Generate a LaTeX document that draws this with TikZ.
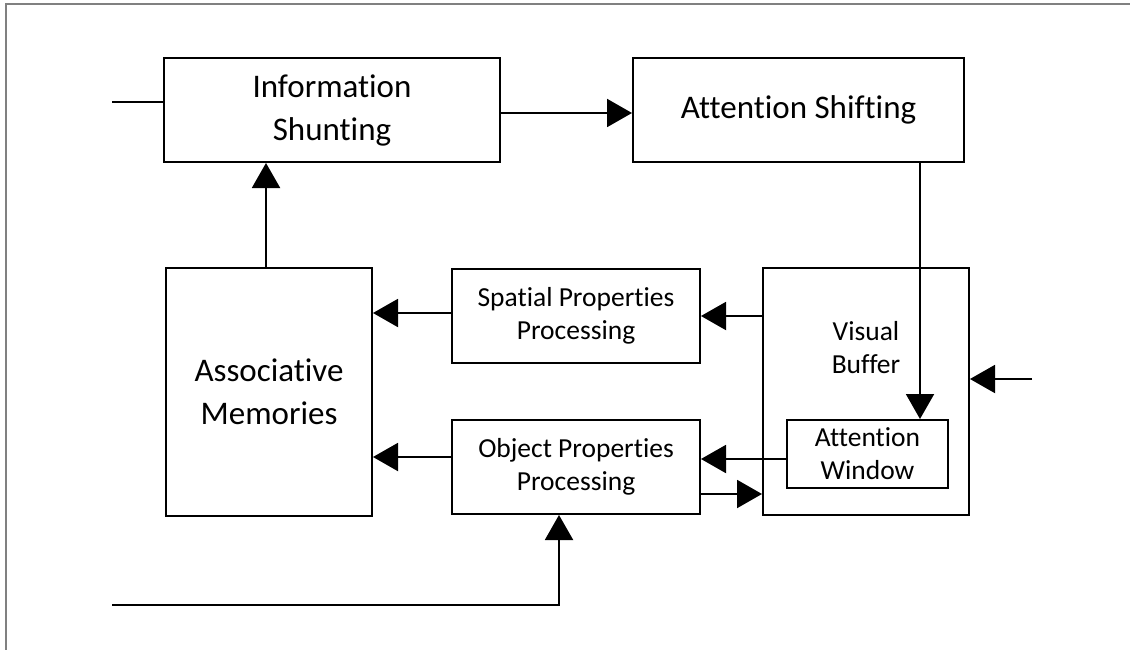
\documentclass[tikz,border=0pt]{standalone}
\usepackage{fontspec}
\setmainfont{Carlito}[RawFeature={-liga;-clig;-calt;-rlig;-dlig}]
\usetikzlibrary{arrows.meta}
\tikzset{
  box/.style={draw=black, line width=2pt, fill=white, inner sep=0pt, align=center},
  big/.style={font=\fontsize{33}{43}\selectfont},
  small/.style={font=\fontsize{27.5}{33}\selectfont},
  conn/.style={line width=2pt, black},
  arr/.style={conn, -{Triangle[length=25pt,width=28pt]}},
}
\begin{document}
\begin{tikzpicture}[x=1pt,y=-1pt]
  \useasboundingbox (0,0) rectangle (1130,650);
  % outer frame (only left and top edges are inside the page)
  \draw[line width=2pt, color=black!50] (6,650) -- (6,4) -- (1130,4);

  % boxes
  \node[box, big, minimum width=336pt, minimum height=104pt] (info) at (332,110) {Information\\Shunting};
  \node[box, big, minimum width=331pt, minimum height=104pt] (shift) at (798.5,110) {Attention Shifting};
  \node[box, big, minimum width=206pt, minimum height=248pt] (am) at (269,392) {Associative\\Memories};
  \node[box, small, minimum width=248pt, minimum height=94pt] (spatial) at (576,316) {Spatial Properties\\Processing};
  \node[box, small, minimum width=248pt, minimum height=94pt] (object) at (576,467) {Object Properties\\Processing};
  \node[box, minimum width=206pt, minimum height=247pt] (vb) at (866,391.5) {};
  \node[small, align=center] (vbtext) at (866,348) {Visual\\Buffer};
  \node[box, small, minimum width=161pt, minimum height=68pt] (win) at (867.5,454) {Attention\\Window};

  % free ends of the input lines
  \coordinate (inA) at (112,102);
  \coordinate (inB) at (1032,379);
  \coordinate (inC) at (112,605);

  % connectors
  \draw[conn] (inA) -- (inA -| info.west);
  \draw[arr] ([yshift=-3pt]info.east) -- ([yshift=-3pt]shift.west);
  \draw[arr] ([xshift=121.5pt]shift.south) coordinate (d) -- (d |- win.north);
  \draw[arr] ([xshift=-3pt]am.north) coordinate (u) -- (u |- info.south);
  \draw[arr] (vb.west |- spatial.east) -- (spatial.east);
  \draw[arr] ([yshift=3pt]spatial.west) coordinate (s) -- (s -| am.east);
  \draw[arr] ([yshift=10pt]object.west) coordinate (o) -- (o -| am.east);
  \draw[arr] ([yshift=-5pt]win.west) coordinate (w) -- (w -| object.east);
  \draw[arr] ([yshift=-27pt]object.east) coordinate (e) -- (e -| vb.west);
  \draw[arr] (inB) -- (inB -| vb.east);
  \draw[arr] (inC) -| ([xshift=-17pt]object.south);
\end{tikzpicture}
\end{document}
